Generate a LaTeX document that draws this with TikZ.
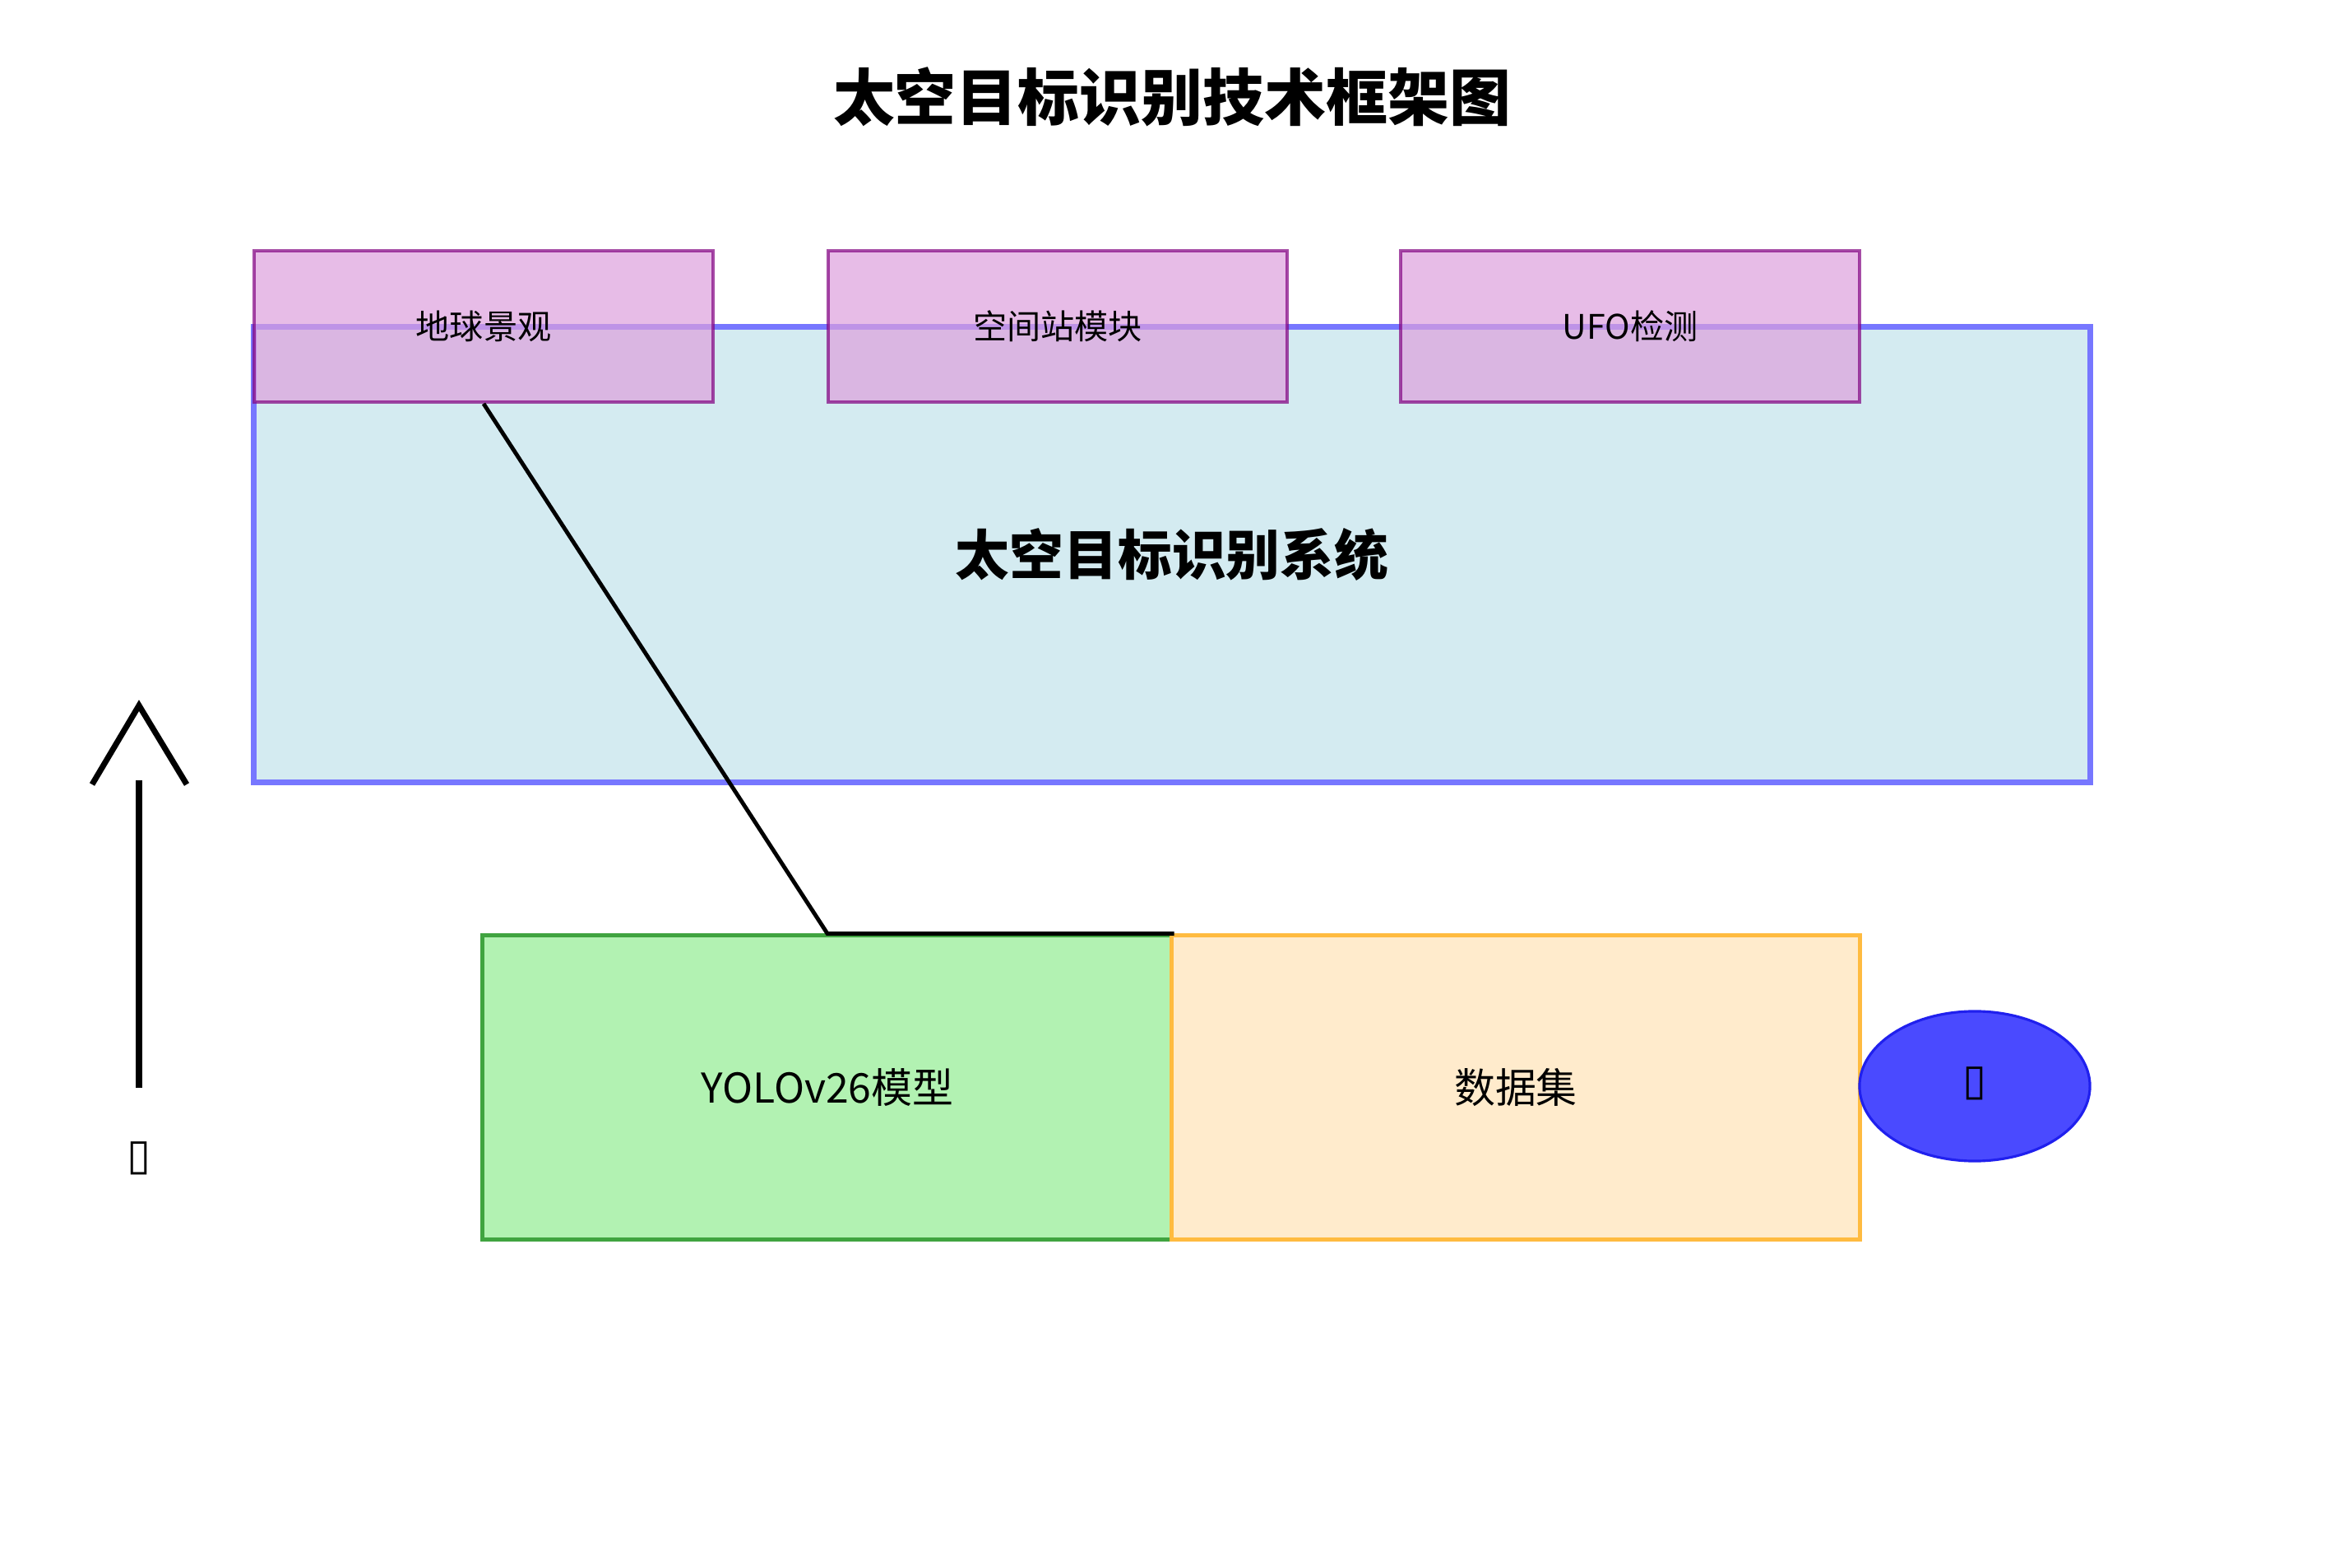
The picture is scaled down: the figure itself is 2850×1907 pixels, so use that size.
\documentclass[tikz,border=0pt]{standalone}
\usepackage{fontspec}
\setmainfont{Noto Sans CJK SC}
\newfontfamily\symfont{DejaVu Sans}
\usetikzlibrary{shapes.geometric,positioning}

\definecolor{sysfill}{HTML}{D4EBF1}
\definecolor{sysline}{HTML}{7777FF}
\definecolor{subfill}{HTML}{DDA0DD}
\definecolor{subline}{HTML}{800080}
\definecolor{modfill}{HTML}{B2F2B2}
\definecolor{modline}{HTML}{40A440}
\definecolor{datfill}{HTML}{FFEBCC}
\definecolor{datline}{HTML}{FFBB40}
\definecolor{ovfill}{HTML}{4A4AFF}
\definecolor{ovline}{HTML}{2020EE}

\begin{document}
\begin{tikzpicture}[
  x=0.01cm, y=-0.01cm,
  sysbox/.style={draw=sysline, fill=sysfill, line width=2pt, inner sep=0pt, minimum width=22.32cm, minimum height=5.53cm, font=\fontsize{18.7}{22}\selectfont\bfseries},
  subbox/.style={draw=subline, fill=subfill, draw opacity=0.7, fill opacity=0.7, text opacity=1, line width=1.1pt, inner sep=0pt, minimum width=5.58cm, minimum height=1.84cm, font=\fontsize{11.7}{14}\selectfont},
  modbox/.style={draw=modline, fill=modfill, line width=1.4pt, inner sep=0pt, minimum width=8.38cm, minimum height=3.69cm, font=\fontsize{14.2}{17}\selectfont},
  datbox/.style={draw=datline, fill=datfill, line width=1.4pt, inner sep=0pt, minimum width=8.36cm, minimum height=3.69cm, font=\fontsize{14.2}{17}\selectfont},
  oval/.style={ellipse, draw=ovline, fill=ovfill, line width=0.9pt, inner sep=0pt, minimum width=2.8cm, minimum height=1.82cm},
  tofu/.style={font=\symfont\fontsize{15}{18}\selectfont, inner sep=0pt},
  link/.style={black, line width=1.4pt},
  uparr/.style={black, line width=2pt},
]
\useasboundingbox (0,0) rectangle (2850,1907);
% ================= title =================
\node[font=\fontsize{21.3}{26}\selectfont\bfseries] (title) at (1425,118) {太空目标识别技术框架图};
% ================= system =================
\node[sysbox] (sys) at (1425,674.5) {太空目标识别系统};
\node[subbox] (earth) at (588,397) {地球景观};
\node[subbox] (station) at (1286,397) {空间站模块};
\node[subbox] (ufo) at (1982,397) {UFO检测};
% ================= model and data =================
\node[modbox] (yolo) at (1006,1322.5) {YOLOv26模型};
\node[datbox] (data) at (1843,1322.5) {数据集};
\node[oval] (dot) at (2401,1321) {};
\node[tofu] (dotlbl) at (2401,1318) {▯};
\draw[link] (earth.south) -- (yolo.north) -- (yolo.north east);
% ================= side arrow =================
\node[tofu] (axlbl) at (169,1409) {▯};
\coordinate (shaftlo) at (169,1323);
\coordinate (shafthi) at (169,949);
\coordinate (tip) at (169,858);
\draw[uparr] (shaftlo) -- (shafthi);
\draw[uparr] (tip) ++(-57,96) -- (tip) -- ++(58,96);
\end{tikzpicture}
\end{document}
